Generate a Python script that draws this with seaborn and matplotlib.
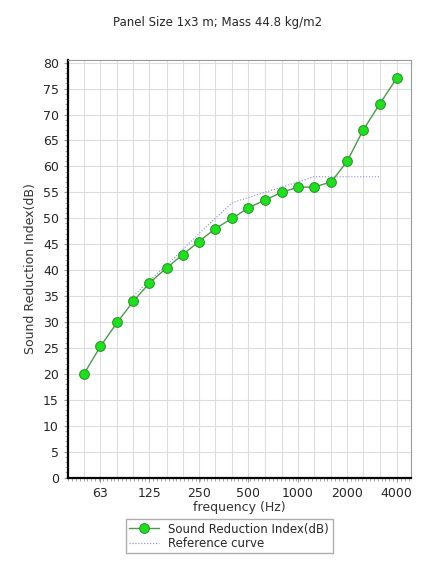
import matplotlib
matplotlib.use("Agg")
import matplotlib.pyplot as plt
import seaborn as sns
import numpy as np
import pandas as pd
from matplotlib.ticker import FixedLocator, NullFormatter, MultipleLocator

freqs = [50, 63, 80, 100, 125, 160, 200, 250, 315, 400, 500, 630, 800, 1000, 1250, 1600, 2000, 2500, 3150, 4000]
sri = [20, 25.3, 30, 34, 37.5, 40.5, 43, 45.5, 48, 50, 52, 53.5, 55, 56, 56, 57, 61, 67, 72, 77]
ref_freqs = [100, 125, 160, 200, 250, 315, 400, 500, 630, 800, 1000, 1250, 1600, 2000, 2500, 3150]
ref_vals = [35, 38, 41, 44, 47, 50, 53, 54, 55, 56, 57, 58, 58, 58, 58, 58]
tick_labels = [63, 125, 250, 500, 1000, 2000, 4000]

sns.set_style("white")
fig = plt.figure(figsize=(4.36, 5.72), dpi=100)
ax = fig.add_axes([0.156, 0.165, 0.787, 0.73])
ax.set_xscale("log")
ax.set_xlim(40, 4900)
ax.set_ylim(0, 80.5)

df = pd.DataFrame({"f": freqs, "v": sri})
rdf = pd.DataFrame({"f": ref_freqs, "v": ref_vals})
sns.lineplot(data=df, x="f", y="v", ax=ax, color="#4a9a4a", lw=1, marker="o",
             markersize=7, markerfacecolor="#22dd22", markeredgecolor="#229922",
             label="Sound Reduction Index(dB)", zorder=3)
sns.lineplot(data=rdf, x="f", y="v", ax=ax, color="#8888dd", lw=0.8, ls=":",
             label="Reference curve", zorder=2)

ax.xaxis.set_major_locator(FixedLocator(tick_labels))
ax.set_xticklabels([str(t) for t in tick_labels])
ax.xaxis.set_minor_locator(FixedLocator(list(np.geomspace(40, 5000, 90))))
ax.xaxis.set_minor_formatter(NullFormatter())
ax.yaxis.set_major_locator(MultipleLocator(5))
ax.yaxis.set_minor_locator(MultipleLocator(1))
ax.tick_params(which="major", length=3, labelsize=9, color="#999")
ax.tick_params(which="minor", length=2, color="#999")
ax.tick_params(axis="both", which="both", bottom=True, left=True)
for f in freqs + [5000]:
    ax.axvline(f, color="#dddddd", lw=0.8, zorder=0)
ax.grid(axis="y", color="#dddddd", lw=0.8)
ax.set_axisbelow(True)
for s in ["left", "bottom"]:
    ax.spines[s].set_linewidth(1.6)
    ax.spines[s].set_color("black")
for s in ["top", "right"]:
    ax.spines[s].set_color("#999")
    ax.spines[s].set_linewidth(0.8)

ax.set_xlabel("frequency (Hz)", fontsize=9, color="#333", labelpad=1)
ax.set_ylabel("Sound Reduction Index(dB)", fontsize=9, color="#333")
fig.text(0.5, 0.955, "Panel Size 1x3 m; Mass 44.8 kg/m2", ha="center", fontsize=8.5)
leg = ax.legend(loc="upper center", bbox_to_anchor=(0.47, -0.085), fontsize=8.5,
                frameon=True, fancybox=False, edgecolor="#999", borderpad=0.3,
                handlelength=2.5, labelspacing=0.1)
fig.savefig("out.png", dpi=100)
